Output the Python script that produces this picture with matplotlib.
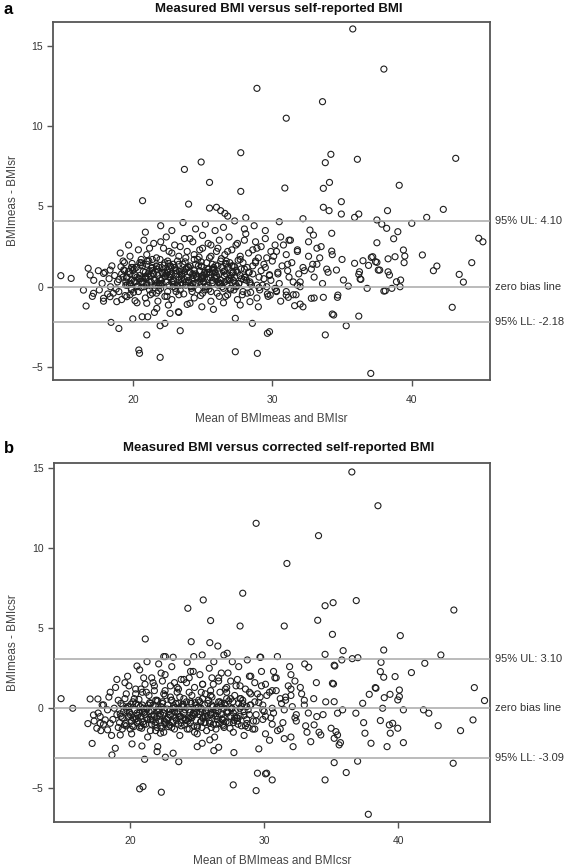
import matplotlib
matplotlib.use("Agg")
import matplotlib.pyplot as plt
import matplotlib.transforms as mtransforms

plt.rcParams['font.family'] = ['Liberation Sans', 'DejaVu Sans']

# ---------------- panel a: measured vs self-reported ----------------
a_title = "Measured BMI versus self-reported BMI"
a_xlabel = "Mean of BMImeas and BMIsr"
a_ylabel = "BMImeas - BMIsr"
a_lines = [4.10, 0.0, -2.18]
a_line_labels = ["95% UL: 4.10", "zero bias line", "95% LL: -2.18"]

# dense cluster, read row by row
a_cluster_x = [
    17.1, 17.9, 18.6, 19.2, 19.8, 20.3, 20.9, 21.4, 21.8, 22.3, 22.8, 23.3, 23.9, 24.4, 25.0, 25.6, 26.2, 26.8, 27.5, 28.2, 28.9, 29.7, 30.6, 31.5, 33.0,
    17.6, 18.4, 19.0, 19.5, 19.9, 20.4, 20.8, 21.2, 21.6, 22.0, 22.5, 22.9, 23.4, 23.8, 24.2, 24.7, 25.2, 25.6, 26.1, 26.5, 27.0, 27.4, 27.9, 28.5, 29.1, 29.6, 30.2, 31.0, 31.8,
    17.2, 17.8, 18.3, 18.9, 19.3, 19.6, 19.9, 20.2, 20.5, 20.8, 21.1, 21.3, 21.6, 21.9, 22.1, 22.4, 22.7, 22.9, 23.2, 23.5, 23.8, 24.0, 24.3, 24.6, 24.9, 25.1, 25.4, 25.7, 26.0, 26.3, 26.6, 26.9, 27.2, 27.6, 28.0, 28.4, 28.9, 29.4, 29.9, 30.5, 31.2, 32.0,
    18.0, 18.7, 19.4, 19.8, 20.1, 20.5, 20.9, 21.2, 21.5, 21.8, 22.2, 22.5, 22.8, 23.1, 23.5, 23.8, 24.1, 24.5, 24.8, 25.1, 25.5, 25.8, 26.2, 26.6, 27.0, 27.5, 28.0, 28.6, 29.2, 29.8, 30.4, 31.1, 31.9, 32.8,
    18.5, 19.3, 19.9, 20.6, 21.0, 21.4, 21.9, 22.3, 22.7, 23.2, 23.6, 24.0, 24.4, 24.9, 25.3, 25.8, 26.3, 26.7, 27.2, 27.7, 28.2, 28.8, 29.4, 30.0, 30.7, 31.4, 32.2, 33.2,
    19.1, 19.8, 20.4, 21.0, 21.7, 22.2, 22.8, 23.3, 23.9, 24.4, 25.0, 25.5, 26.0, 26.6, 27.1, 27.7, 28.3, 28.9, 29.6, 30.3, 31.0, 31.8, 32.6,
    19.7, 20.8, 21.5, 22.4, 23.0, 23.7, 24.3, 25.0, 25.6, 26.2, 26.9, 27.5, 28.1, 28.8, 29.5, 30.2, 31.2,
    20.9, 22.0, 22.8, 23.6, 24.5, 25.2, 25.9, 26.5, 27.3, 28.0, 28.7, 29.5,
    19.6, 20.0, 20.7, 21.1, 21.7, 22.0, 22.6, 23.0, 23.3, 23.7, 24.1, 24.6, 25.0, 25.4, 25.9, 26.4, 26.8, 27.3,
    20.3, 20.9, 21.4, 21.9, 22.4, 22.9, 23.4, 23.9, 24.4, 24.8, 25.3, 25.7, 26.2, 26.7, 27.1, 27.8, 28.3,
    30.1, 30.4, 30.8, 31.1, 31.5, 31.8, 32.3, 32.6, 33.0, 33.4, 33.9, 34.3, 30.6, 31.3, 32.0, 32.9, 33.6, 34.0, 30.3, 31.7, 33.2,
    19.2, 19.5, 20.0, 20.4, 20.7, 21.0, 21.3, 21.7, 22.0, 22.3, 22.6, 23.0, 23.3, 23.6, 24.0, 24.3, 24.7, 25.0, 25.3, 25.7, 26.0, 26.4, 26.8, 27.2, 27.6, 28.1,
    19.4, 19.9, 20.3, 20.6, 21.0, 21.4, 21.7, 22.1, 22.5, 22.8, 23.1, 23.5, 23.8, 24.2, 24.5, 24.9, 25.2, 25.6, 25.9, 26.3, 26.7, 27.0, 27.4, 27.9, 28.4, 29.0,
    21.2, 22.0, 22.6, 23.4, 24.1, 24.8, 25.4, 26.1, 26.8, 27.4, 28.0, 28.6, 29.2, 29.9,
    19.0, 19.35, 19.75, 20.15, 20.55, 20.95, 21.35, 21.75, 22.15, 22.55, 22.95, 23.35, 23.75, 24.15, 24.55, 24.95, 25.35, 25.75, 26.15, 26.55, 26.95, 27.35, 27.75, 28.15, 28.6, 29.05, 29.5,
    19.15, 19.55, 19.95, 20.35, 20.75, 21.15, 21.55, 21.95, 22.35, 22.75, 23.15, 23.55, 23.95, 24.35, 24.75, 25.15, 25.55, 25.95, 26.35, 26.75, 27.15, 27.55, 27.95, 28.35, 28.8, 29.3, 29.8,
    18.2, 18.8, 19.45, 20.05, 20.6, 21.25, 21.85, 22.45, 23.05, 23.65, 24.25, 24.85, 25.45, 26.05, 26.65, 27.25, 27.85, 28.45, 29.05, 29.65, 30.3,
    19.7, 20.1, 20.5, 20.9, 21.3, 21.7, 22.1, 22.5, 22.9, 23.3, 23.7, 24.1, 24.5, 24.9, 25.3, 25.7, 26.1, 26.5, 26.9, 27.3, 27.7,
    19.85, 20.25, 20.65, 21.05, 21.45, 21.85, 22.25, 22.65, 23.05, 23.45, 23.85, 24.25, 24.65, 25.05, 25.45, 25.85, 26.25, 26.65, 27.05, 27.45,
]
a_cluster_y = [
    -0.6, -0.9, -0.4, -0.8, -0.5, -1.0, -0.7, -0.4, -0.9, -0.6, -0.8, -0.5, -1.1, -0.7, -0.4, -0.9, -0.6, -0.5, -0.8, -0.4, -0.7, -0.6, -0.9, -0.5, -0.7,
    -0.2, 0.0, -0.3, 0.1, -0.1, -0.3, 0.0, -0.2, 0.1, -0.1, -0.3, 0.0, -0.2, 0.1, -0.1, -0.2, 0.0, -0.3, 0.1, -0.1, -0.2, 0.0, -0.3, 0.1, -0.2, 0.0, -0.1, -0.3, 0.1,
    0.4, 0.2, 0.5, 0.3, 0.6, 0.1, 0.4, 0.3, 0.5, 0.2, 0.6, 0.3, 0.4, 0.5, 0.2, 0.3, 0.6, 0.4, 0.1, 0.5, 0.3, 0.4, 0.2, 0.6, 0.5, 0.3, 0.1, 0.4, 0.6, 0.2, 0.3, 0.5, 0.4, 0.2, 0.6, 0.3, 0.1, 0.5, 0.4, 0.2, 0.6, 0.3,
    0.9, 0.7, 1.0, 0.8, 1.1, 0.7, 0.9, 1.0, 0.8, 0.7, 1.1, 0.9, 0.8, 1.0, 0.7, 1.1, 0.9, 0.8, 1.0, 0.7, 0.9, 1.1, 0.8, 1.0, 0.7, 0.9, 1.1, 0.8, 1.0, 0.7, 0.9, 1.0, 0.8, 1.1,
    1.3, 1.6, 1.2, 1.5, 1.4, 1.7, 1.2, 1.5, 1.3, 1.6, 1.4, 1.2, 1.7, 1.3, 1.5, 1.2, 1.6, 1.4, 1.3, 1.7, 1.2, 1.5, 1.4, 1.6, 1.3, 1.5, 1.2, 1.4,
    2.1, 1.9, 2.3, 2.0, 1.8, 2.4, 2.1, 1.9, 2.2, 2.0, 2.4, 1.8, 2.2, 2.0, 2.3, 1.9, 2.1, 2.4, 1.8, 2.2, 2.0, 2.3, 1.9,
    2.6, 2.9, 2.7, 3.1, 2.6, 3.0, 2.8, 3.2, 2.6, 2.9, 3.1, 2.7, 3.3, 2.8, 3.0, 2.6, 2.9,
    3.4, 3.8, 3.5, 4.0, 3.6, 3.9, 3.5, 3.7, 4.1, 3.6, 3.8, 3.5,
    0.6, 1.2, 0.3, 0.8, 1.3, 0.1, 0.6, 1.2, 0.4, 0.9, 1.3, 0.2, 0.7, 1.1, 0.5, 0.0, 1.2, 0.6,
    0.0, 0.5, 1.0, 0.2, 0.8, 1.4, 0.1, 0.6, 1.0, 0.3, 0.9, 1.4, 0.2, 0.8, 1.3, 0.5, 0.9,
    1.9, 0.8, 2.6, 1.4, 0.3, 2.2, 1.0, 2.8, 0.6, 1.8, 1.1, 2.0, 3.1, 2.9, 0.0, 1.4, 0.2, 0.9, -0.3, -0.5, 2.4,
    0.8, 0.3, 1.0, 0.5, 1.3, 0.2, 0.7, 1.1, 0.4, 0.9, 0.1, 1.2, 0.6, 1.0, 0.3, 0.8, 1.3, 0.5, 0.0, 1.1, 0.7, 1.2, 0.4, 0.9, 0.2, 0.6,
    1.5, -0.2, 0.6, 1.7, 0.1, 1.2, -0.4, 0.9, 1.6, 0.3, -0.3, 0.8, 1.8, 0.0, 1.4, 0.6, -0.2, 1.9, 0.9, 0.4, 1.6, -0.1, 1.0, 1.5, 0.2, 1.8,
    2.4, 2.8, 2.2, 2.5, 3.0, 2.3, 2.7, 2.4, 2.2, 2.6, 2.9, 2.3, 2.5, 2.2,
    0.45, 1.05, 0.15, 0.75, 1.35, 0.55, 1.15, 0.25, 0.85, 1.45, 0.35, 0.95, 1.55, 0.05, 0.65, 1.25, 0.45, 1.0, 0.3, 0.7, 1.5, 0.2, 1.1, 0.4, 1.3, 0.6, 1.2,
    1.25, 0.55, 1.45, 0.05, 0.95, 1.6, 0.45, 1.7, 0.65, 1.2, 0.8, 0.15, 1.25, 0.7, 1.85, 0.9, 0.55, 1.35, 1.75, 0.1, 0.85, 1.65, 0.45, 0.9, 1.6, 0.1, 0.75,
    -0.45, -0.15, -0.55, -0.35, -0.05, -0.5, -0.25, -0.6, -0.1, -0.45, -0.3, -0.55, -0.15, -0.4, -0.6, -0.2, -0.5, -0.35, -0.05, -0.45, -0.25,
    0.95, 0.35, 1.5, 0.65, 0.05, 1.25, 0.5, 1.05, 0.15, 1.4, 0.45, 0.9, 0.2, 1.55, 0.8, 0.25, 1.3, 0.95, 0.4, 1.25, 0.7,
    0.2, 1.2, 0.55, 1.6, 0.85, 0.05, 1.35, 0.75, 1.0, 0.25, 1.15, 0.5, 1.7, 0.35, 1.1, 0.6, 0.15, 1.45, 0.55, 0.05,
]

# scattered points away from the cluster
a_outer_x = [
    35.77, 38.0, 28.9, 33.6, 31.0, 27.74, 24.9, 23.7, 25.5, 27.74, 30.9, 20.7, 24.0,
    25.5, 26.0, 26.3, 26.6, 26.8, 28.1, 30.5,
    34.2, 33.8, 36.1, 43.15, 34.1, 33.66, 39.1, 34.95, 33.66, 34.07, 34.95, 35.9, 36.2, 38.26, 42.26, 41.07, 32.2, 40.0,
    37.5, 37.85, 38.2, 39.0, 38.7, 37.5, 34.26, 44.8, 45.1, 39.4, 39.5, 39.45, 40.76, 41.8, 41.55, 44.3, 43.4, 43.7, 42.9,
    38.3, 38.8, 39.2, 38.9, 38.1, 38.57, 36.8, 38.3, 38.4, 35.9, 36.25, 36.3, 37.2, 37.5, 37.7, 36.5, 36.9, 34.3, 36.2,
    29.65, 29.8, 33.8, 35.3, 34.4, 37.06, 31.6, 32.0, 32.2, 31.0, 31.15, 32.8, 33.66, 34.7, 34.67, 38.0, 39.16, 29.85,
    32.7, 32.95, 33.5, 34.26, 35.0, 37.1, 37.4, 37.6, 34.6, 35.1, 35.45, 36.2, 36.35,
    14.84, 15.58, 16.65, 18.44, 19.0, 20.0, 20.67, 21.07, 21.55, 21.96, 22.3, 22.67, 23.3, 23.4, 21.0, 20.43, 20.48,
    21.96, 27.35, 28.57, 27.35, 28.93,
    16.46, 17.18, 17.9, 18.37, 18.85, 19.57, 20.16, 21.0, 21.72, 22.55, 23.27, 24.1, 24.95, 25.78, 26.5, 27.7, 28.4, 29.0,
    16.8, 16.94, 17.53, 17.9, 18.37,
]
a_outer_y = [
    16.06, 13.56, 12.36, 11.53, 10.5, 8.35, 7.77, 7.31, 6.5, 5.94, 6.15, 5.36, 5.15,
    4.9, 4.95, 4.74, 4.57, 4.4, 4.3, 4.05,
    8.25, 7.73, 7.94, 8.0, 6.5, 6.13, 6.32, 5.3, 4.95, 4.74, 4.53, 4.32, 4.53, 4.74, 4.82, 4.32, 4.24, 3.95,
    4.16, 3.9, 3.64, 3.43, 2.99, 2.74, 3.33, 3.02, 2.8, 2.29, 1.91, 1.5, 1.98, 1.29, 1.0, 1.5, 0.77, 0.29, -1.28,
    1.74, 1.87, 0.42, 0.31, -0.25, -0.1, -0.1, 0.93, 0.73, 1.46, 0.93, 0.48, 1.87, 1.52, 1.04, 1.62, 1.33, -1.7, -1.83,
    -2.9, -2.8, -3.0, -2.43, -1.76, -5.4, -1.18, -1.08, -1.25, -0.52, -0.66, -0.72, -0.66, -0.52, -0.66, -0.27, 0.0, -0.52,
    3.53, 3.22, 2.5, 2.22, 1.7, 1.83, 1.56, 1.04, 1.04, 0.42, 0.04, 0.77, 0.46,
    0.69, 0.52, -1.2, -2.22, -2.6, -2.0, -1.87, -1.87, -1.6, -2.43, -2.28, -1.66, -1.6, -2.74, -3.0, -3.94, -4.15,
    -4.4, -1.97, -2.28, -4.05, -4.15,
    -0.21, -0.41, -0.72, -0.62, -0.93, -0.62, -0.87, -1.03, -1.35, -1.14, -1.56, -1.03, -1.25, -1.41, -1.0, -1.14, -0.93, -1.25,
    1.15, 0.73, 1.0, 0.83, 1.04,
]

# ---------------- panel b: measured vs corrected self-reported ----------------
b_title = "Measured BMI versus corrected self-reported BMI"
b_xlabel = "Mean of BMImeas and BMIcsr"
b_ylabel = "BMImeas - BMIcsr"
b_lines = [3.10, 0.0, -3.09]
b_line_labels = ["95% UL: 3.10", "zero bias line", "95% LL: -3.09"]

b_cluster_x = [
    17.8, 18.6, 19.4, 20.1, 20.7, 21.3, 21.9, 22.5, 23.1, 23.7, 24.4, 25.0, 25.7, 26.3, 27.0, 27.7, 28.5, 29.3, 30.1, 31.0, 32.0, 33.2,
    17.3, 18.0, 18.7, 19.2, 19.7, 20.2, 20.6, 21.0, 21.5, 21.9, 22.3, 22.8, 23.2, 23.6, 24.1, 24.5, 25.0, 25.4, 25.9, 26.4, 26.9, 27.4, 28.0, 28.6, 29.2, 29.9, 30.6, 31.4, 32.3,
    17.6, 18.3, 19.0, 19.5, 19.9, 20.3, 20.7, 21.1, 21.4, 21.8, 22.1, 22.5, 22.9, 23.3, 23.7, 24.0, 24.4, 24.8, 25.2, 25.6, 26.0, 26.4, 26.8, 27.2, 27.7, 28.2, 28.8, 29.4, 30.0, 30.7, 31.5, 32.4,
    17.9, 18.8, 19.3, 19.8, 20.2, 20.6, 21.0, 21.5, 21.9, 22.4, 22.8, 23.2, 23.6, 24.0, 24.5, 24.9, 25.3, 25.8, 26.2, 26.7, 27.1, 27.6, 28.1, 28.7, 29.3, 29.9, 30.6, 31.3, 32.1, 33.0,
    18.4, 19.1, 19.7, 20.3, 20.9, 21.4, 22.0, 22.5, 23.0, 23.5, 24.0, 24.6, 25.1, 25.6, 26.1, 26.7, 27.2, 27.8, 28.4, 29.0, 29.7, 30.4, 31.2, 32.0, 33.0,
    18.9, 19.6, 20.4, 21.1, 21.8, 22.4, 23.0, 23.6, 24.2, 24.8, 25.4, 26.0, 26.6, 27.2, 27.9, 28.6, 29.3, 30.1, 30.9, 31.8, 32.7,
    19.8, 20.7, 21.6, 22.3, 23.1, 23.8, 24.5, 25.2, 25.9, 26.6, 27.3, 28.1, 28.9, 29.8, 30.8, 32.0,
    19.4, 19.9, 20.5, 20.9, 21.3, 21.7, 22.2, 22.6, 23.0, 23.4, 23.9, 24.3, 24.7, 25.1, 25.5, 26.0, 26.5, 27.0, 27.5, 28.0, 28.5,
    19.1, 20.0, 20.4, 20.8, 21.2, 21.6, 22.0, 22.4, 22.7, 23.1, 23.5, 23.8, 24.2, 24.6, 25.0, 25.4, 25.8, 26.2, 26.6, 27.0, 27.5, 28.3, 29.0,
    30.2, 30.5, 30.9, 31.2, 31.6, 32.0, 32.4, 32.8, 33.3, 33.7, 34.1, 34.6, 30.7, 31.5, 32.3, 33.1, 33.9, 34.4, 30.4, 31.9,
    19.3, 19.7, 20.1, 20.5, 20.9, 21.2, 21.6, 22.0, 22.3, 22.7, 23.0, 23.4, 23.8, 24.1, 24.5, 24.9, 25.3, 25.7, 26.1, 26.5, 26.9, 27.3, 27.8, 28.3, 28.9,
    19.6, 20.0, 20.4, 20.8, 21.2, 21.5, 21.9, 22.2, 22.6, 22.9, 23.3, 23.7, 24.0, 24.4, 24.8, 25.2, 25.6, 26.0, 26.4, 26.8, 27.2, 27.7, 28.2, 28.8, 29.5,
    21.0, 21.8, 22.6, 23.3, 24.0, 24.7, 25.4, 26.1, 26.8, 27.5, 28.2, 29.0,
    19.25, 19.65, 20.05, 20.45, 20.85, 21.25, 21.65, 22.05, 22.45, 22.85, 23.25, 23.65, 24.05, 24.45, 24.85, 25.25, 25.65, 26.05, 26.45, 26.85, 27.25, 27.65, 28.05, 28.5, 28.95, 29.4, 29.9,
    19.45, 19.85, 20.25, 20.65, 21.05, 21.45, 21.85, 22.25, 22.65, 23.05, 23.45, 23.85, 24.25, 24.65, 25.05, 25.45, 25.85, 26.25, 26.65, 27.05, 27.45, 27.85, 28.25, 28.7, 29.15, 29.6, 30.1,
    18.5, 19.0, 19.9, 20.8, 21.7, 22.6, 23.5, 24.4, 25.3, 26.2, 27.1, 28.0, 28.9, 29.8, 30.6, 31.6,
    19.55, 19.95, 20.35, 20.75, 21.15, 21.55, 21.95, 22.35, 22.75, 23.15, 23.55, 23.95, 24.35, 24.75, 25.15, 25.55, 25.95, 26.35, 26.75, 27.15, 27.55, 27.95, 28.4,
    19.75, 20.15, 20.55, 20.95, 21.35, 21.75, 22.15, 22.55, 22.95, 23.35, 23.75, 24.15, 24.55, 24.95, 25.35, 25.75, 26.15, 26.55, 26.95, 27.35, 27.75, 28.2, 28.7,
]
b_cluster_y = [
    -1.4, -1.7, -1.3, -1.6, -1.2, -1.8, -1.4, -1.5, -1.2, -1.7, -1.3, -1.6, -1.4, -1.8, -1.2, -1.5, -1.7, -1.3, -1.6, -1.4, -1.8, -1.5,
    -0.8, -1.0, -0.7, -0.9, -1.1, -0.6, -0.8, -1.0, -0.7, -0.9, -1.1, -0.6, -0.8, -1.0, -0.7, -0.9, -1.1, -0.6, -0.8, -1.0, -0.7, -0.9, -0.6, -1.1, -0.8, -0.7, -1.0, -0.9, -0.6,
    -0.3, -0.1, -0.4, -0.2, -0.5, -0.1, -0.3, -0.4, -0.2, -0.5, -0.1, -0.3, -0.4, -0.2, -0.5, -0.3, -0.1, -0.4, -0.2, -0.5, -0.3, -0.1, -0.4, -0.2, -0.3, -0.5, -0.1, -0.4, -0.2, -0.3, -0.1, -0.4,
    0.2, 0.0, 0.3, 0.1, 0.4, 0.2, 0.0, 0.3, 0.1, 0.4, 0.2, 0.0, 0.3, 0.1, 0.4, 0.2, 0.0, 0.3, 0.1, 0.4, 0.2, 0.0, 0.3, 0.1, 0.4, 0.2, 0.0, 0.3, 0.1, 0.2,
    0.7, 0.5, 0.9, 0.6, 1.0, 0.8, 0.5, 0.9, 0.7, 1.0, 0.6, 0.8, 0.5, 0.9, 0.7, 1.0, 0.6, 0.8, 0.5, 0.9, 0.7, 1.0, 0.6, 0.8, 0.5,
    1.3, 1.6, 1.2, 1.5, 1.1, 1.7, 1.4, 1.2, 1.6, 1.3, 1.5, 1.1, 1.7, 1.3, 1.4, 1.2, 1.6, 1.5, 1.1, 1.4, 1.3,
    2.0, 2.4, 1.9, 2.2, 2.6, 1.8, 2.3, 2.1, 2.5, 1.9, 2.2, 2.6, 2.0, 2.3, 1.9, 2.1,
    -0.6, 0.1, -0.9, -0.2, -0.7, 0.2, -0.5, -1.0, -0.1, -0.6, 0.2, -0.8, -0.3, 0.1, -0.9, -0.4, -0.7, 0.0, -0.5, -0.8, -0.2,
    -1.2, -0.4, 0.3, -1.1, 0.0, -0.5, -1.2, 0.3, -0.7, 0.5, -0.2, -1.1, 0.4, -0.6, -1.2, 0.6, -0.1, -1.0, 0.4, -0.6, 0.6, -1.1, 0.2,
    0.8, -0.6, 1.9, -1.3, 0.5, 1.2, -0.8, 0.9, -0.3, 0.6, -1.5, 0.4, 2.3, -1.9, 1.7, -1.1, 1.6, -0.4, -2.0, 2.6,
    -0.5, 0.0, -0.8, -0.3, 0.2, -0.6, -1.0, -0.2, 0.1, -0.7, -0.4, 0.3, -0.9, -0.1, -0.6, 0.0, -0.8, -0.3, 0.2, -0.5, -1.0, -0.2, -0.6, 0.1, -0.4,
    0.6, -1.3, 0.9, -0.5, 1.0, -1.4, 0.5, -0.8, 1.1, -0.2, -1.3, 0.7, -0.6, 1.0, -1.5, 0.4, -0.9, 0.8, -1.3, 0.3, 1.0, -0.9, 0.6, -1.2, 0.9,
    1.9, 1.4, 2.1, 1.6, 1.8, 2.3, 1.5, 1.9, 2.2, 1.7, 1.4, 2.0,
    -0.35, -0.95, 0.25, -0.65, -1.25, -0.05, -0.75, 0.45, -0.45, -1.15, 0.15, -0.55, -1.05, -0.25, 0.35, -0.85, -0.15, -1.2, 0.05, -0.7, -0.3, 0.4, -1.0, -0.45, 0.2, -0.8, -0.1,
    0.15, -0.55, -1.15, 0.55, -0.25, 0.35, -1.05, -0.35, -0.9, 0.5, -0.75, 0.1, -1.3, -0.45, 0.05, -0.6, 0.5, -0.35, -0.95, 0.3, -1.25, -0.15, 0.6, -0.7, -1.3, 0.35, -0.5,
    1.0, 1.8, 1.4, 1.2, 1.6, 0.8, 1.3, 1.9, 1.0, 1.5, 1.2, 1.8, 1.0, 1.4, 1.1, 0.7,
    -1.05, -0.25, -0.7, 0.1, -1.0, -0.15, -0.6, -1.25, -0.05, -0.9, -0.35, 0.25, -0.65, -1.1, -0.4, 0.2, -0.95, -0.5, 0.15, -0.85, -0.05, -0.6, 0.3,
    -0.15, -1.1, -0.45, -0.85, 0.2, -0.4, -0.05, -0.8, -1.05, 0.05, -0.5, -0.75, 0.3, -0.25, -1.2, -0.55, 0.1, -0.2, -1.1, 0.45, -0.75, 0.0, -0.95,
]

b_outer_x = [
    36.55, 38.5, 29.4, 34.06, 31.7, 28.4, 25.45, 24.3, 26.0, 28.2, 31.5, 21.12, 24.55, 25.94, 26.54,
    14.83, 15.7, 16.83, 17.15,
    20.5, 21.25, 22.5, 23.2, 24.74, 25.37, 26.24, 26.99, 27.24, 28.74, 29.74, 30.99, 22.12, 22.62, 24.25, 27.62, 29.69,
    34.55, 35.15, 36.88, 44.17, 34.0, 35.1, 40.17, 34.55, 35.9, 35.8, 36.58, 37.0, 38.93, 38.73, 42.0, 43.2, 35.23, 33.03, 33.33,
    38.68, 38.93, 39.78, 41.0, 45.7, 46.46, 38.3, 37.85, 37.36, 39.4, 38.97, 40.1, 40.1, 39.98, 38.85, 40.4, 41.9, 42.3,
    38.68, 39.35, 39.6, 39.98, 39.42, 37.43, 37.53, 37.98, 39.18, 40.4, 43.0, 44.67, 45.6, 35.18, 35.28,
    35.23, 36.98, 36.13, 34.55, 37.78, 44.12, 30.19, 30.6, 35.7, 35.6, 35.23, 34.23, 33.48, 32.16,
    18.63, 18.88, 19.25, 20.13, 20.87, 21.07, 22.0, 22.62, 23.2, 23.62, 22.25, 22.05, 20.7, 20.95, 22.32,
    27.69, 29.4, 29.5, 30.1, 27.74, 29.6, 26.24, 26.6, 25.0, 25.37, 25.94,
    33.73, 33.93, 35.0, 35.36, 35.48, 35.86, 35.48, 35.1, 35.23, 36.85, 38.35,
    17.0, 17.58, 18.0, 17.25, 17.75, 18.13, 18.5, 17.75, 17.5, 18.3,
]
b_outer_y = [
    14.77, 12.66, 11.56, 10.79, 9.05, 7.19, 6.77, 6.25, 5.48, 5.14, 5.14, 4.33, 4.16, 4.1, 3.89,
    0.6, 0.0, -0.96, -2.2,
    2.64, 2.91, 3.23, 3.19, 3.23, 3.33, 2.91, 3.33, 3.44, 3.02, 3.19, 3.23, 2.77, 3.23, 2.87, 2.91, 3.19,
    6.41, 6.6, 6.73, 6.14, 5.5, 4.62, 4.54, 3.37, 3.6, 3.02, 3.1, 3.16, 3.64, 2.87, 2.81, 3.33, 2.69, 2.77, 2.56,
    2.29, 1.94, 1.98, 2.23, 1.29, 0.48, 1.29, 0.87, 0.31, 0.87, 0.66, 1.14, 0.73, 0.52, 0.0, -0.1, -0.1, -0.31,
    -0.77, -1.04, -0.94, -1.25, -1.56, -0.9, -1.56, -2.19, -2.4, -2.15, -1.09, -1.4, -0.73, 1.52, 2.64,
    -3.4, -3.31, -4.02, -4.48, -6.63, -3.44, -4.06, -4.48, -2.15, -2.29, -1.88, -1.67, -2.09, -2.4,
    -2.92, -2.5, -1.67, -2.23, -2.36, -3.19, -2.71, -3.06, -2.81, -3.34, -1.56, -2.4, -5.04, -4.9, -5.25,
    -4.79, -5.15, -4.06, -4.1, -2.77, -2.54, -2.65, -2.44, -2.4, -2.19, -1.98,
    -1.04, -0.52, -1.25, -1.46, -1.67, -0.1, -0.31, 1.56, 0.41, -0.31, 1.25,
    0.58, 0.58, 0.21, -0.42, -0.52, -0.73, -0.94, -0.94, -1.25, -1.35,
]


def draw_panel(ax, xs, ys, lines, line_labels, xlabel, ylabel, xlim, ylim):
    ax.scatter(xs, ys, s=19, facecolors='none', edgecolors='#1e1e1e',
               linewidths=0.8, zorder=2)
    trans = mtransforms.blended_transform_factory(ax.transAxes, ax.transData)
    for v, lab in zip(lines, line_labels):
        ax.axhline(v, color='#a8a8a8', lw=1.1, zorder=3)
        ax.text(1.012, v, lab, transform=trans, va='center', ha='left',
                fontsize=8, color='#333333')
    ax.set_xlim(*xlim)
    ax.set_ylim(*ylim)
    ax.set_xticks([20, 30, 40])
    ax.set_yticks([-5, 0, 5, 10, 15])
    ax.tick_params(direction='out', length=4, width=1, colors='#555555',
                   labelsize=7.5, labelcolor='#333333', top=False, right=False)
    ax.tick_params(axis='x', pad=6.5)
    for sp in ax.spines.values():
        sp.set_color('#555555')
        sp.set_linewidth(1.3)
    ax.set_xlabel(xlabel, fontsize=8.5, color='#444444', labelpad=6)
    ax.set_ylabel(ylabel, fontsize=8.5, color='#444444', labelpad=9)


fig = plt.figure(figsize=(5.67, 8.66), dpi=100)
ax_a = fig.add_axes([0.094, 0.5612, 0.770, 0.4137])
ax_b = fig.add_axes([0.0952, 0.0512, 0.769, 0.4145])

draw_panel(ax_a, a_cluster_x + a_outer_x, a_cluster_y + a_outer_y, a_lines, a_line_labels,
           a_xlabel, a_ylabel, (14.3, 45.6), (-5.81, 16.51))
draw_panel(ax_b, b_cluster_x + b_outer_x, b_cluster_y + b_outer_y, b_lines, b_line_labels,
           b_xlabel, b_ylabel, (14.3, 46.87), (-7.09, 15.35))

fig.text(279 / 567, 1 - 9 / 866, a_title, ha='center', va='center',
         fontsize=9.5, fontweight='bold', color='#111111')
fig.text(279 / 567, 1 - 448 / 866, b_title, ha='center', va='center',
         fontsize=9.5, fontweight='bold', color='#111111')
fig.text(4 / 567, 1 - 9 / 866, "a", ha='left', va='center', fontsize=12, fontweight='bold')
fig.text(4 / 567, 1 - 448 / 866, "b", ha='left', va='center', fontsize=12, fontweight='bold')

fig.savefig("out.png", dpi=100)
